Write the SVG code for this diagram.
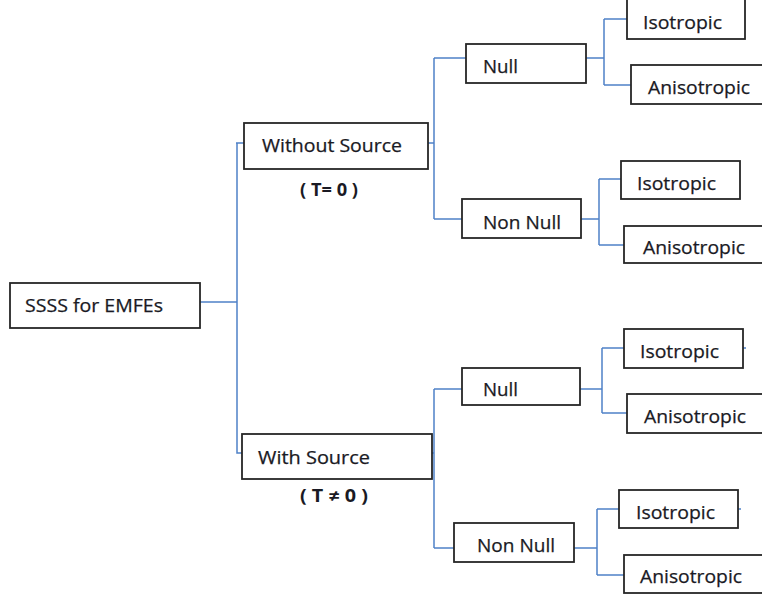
<svg xmlns="http://www.w3.org/2000/svg" width="762" height="598" viewBox="0 0 762 598">
  <style>
    .box { fill: #ffffff; stroke: #262626; stroke-width: 1.8; }
    .lbl { font-family: "Open Sans", "Liberation Sans", sans-serif; font-size: 18.5px; fill: #1a1a24; stroke: #1a1a24; stroke-width: 0.25; }
    .cond { font-family: "Open Sans", "Liberation Sans", sans-serif; font-size: 17px; font-weight: bold; fill: #1a1a24; }
    .wire { fill: none; stroke: #4f81c7; stroke-width: 1.5; }
  </style>
  <rect width="762" height="598" fill="#ffffff"/>

  <!-- tree connectors -->
  <g id="connectors">
    <path class="wire" d="M200 302 H237 M236 143 H244 M237 143 V453 H242"/>
    <path class="wire" d="M428 143 H434 M434 58 V219 M434 58 H466 M434 219 H462"/>
    <path class="wire" d="M432 453 H434 M434 389 V548 M434 389 H462 M434 548 H454"/>
    <path class="wire" d="M586 58 H604 M604 19 V85 M604 19 H627 M604 85 H631"/>
    <path class="wire" d="M581 219 H599 M599 179 V245 M599 179 H621 M599 245 H624"/>
    <path class="wire" d="M580 389 H602 M602 348 V413 M602 348 H624 M602 413 H627 M743 348 H746"/>
    <path class="wire" d="M574 548 H597 M597 509 V575 M597 509 H619 M597 575 H624 M738 509 H741"/>
  </g>

  <g id="root">
    <rect class="box" x="10" y="283" width="190" height="45"/>
    <text class="lbl" x="25" y="312" textLength="138" lengthAdjust="spacingAndGlyphs">SSSS for EMFEs</text>
  </g>

  <g id="without-source">
    <rect class="box" x="244" y="123" width="184" height="46"/>
    <text class="lbl" x="262" y="152" textLength="140" lengthAdjust="spacingAndGlyphs">Without Source</text>
    <text class="cond" x="300" y="196" textLength="58" lengthAdjust="spacingAndGlyphs">( T= 0 )</text>
  </g>

  <g id="with-source">
    <rect class="box" x="242" y="434" width="190" height="45"/>
    <text class="lbl" x="258" y="464" textLength="112" lengthAdjust="spacingAndGlyphs">With Source</text>
    <text class="cond" x="300" y="502" textLength="68" lengthAdjust="spacingAndGlyphs">( T ≠ 0 )</text>
  </g>

  <g id="ws-null">
    <rect class="box" x="466" y="44" width="120" height="39"/>
    <text class="lbl" x="483" y="73" textLength="35" lengthAdjust="spacingAndGlyphs">Null</text>
  </g>
  <g id="ws-nonnull">
    <rect class="box" x="462" y="199" width="119" height="39"/>
    <text class="lbl" x="483" y="229" textLength="78" lengthAdjust="spacingAndGlyphs">Non Null</text>
  </g>
  <g id="s-null">
    <rect class="box" x="462" y="368" width="118" height="37"/>
    <text class="lbl" x="483" y="396" textLength="35" lengthAdjust="spacingAndGlyphs">Null</text>
  </g>
  <g id="s-nonnull">
    <rect class="box" x="454" y="523" width="120" height="39"/>
    <text class="lbl" x="477" y="552" textLength="78" lengthAdjust="spacingAndGlyphs">Non Null</text>
  </g>

  <g id="ws-null-iso">
    <rect class="box" x="627" y="-2" width="118" height="41"/>
    <text class="lbl" x="643" y="29" textLength="79" lengthAdjust="spacingAndGlyphs">Isotropic</text>
  </g>
  <g id="ws-null-aniso">
    <rect class="box" x="631" y="65" width="140" height="39"/>
    <text class="lbl" x="648" y="94" textLength="102" lengthAdjust="spacingAndGlyphs">Anisotropic</text>
  </g>
  <g id="ws-nonnull-iso">
    <rect class="box" x="621" y="161" width="119" height="38"/>
    <text class="lbl" x="637" y="190" textLength="79" lengthAdjust="spacingAndGlyphs">Isotropic</text>
  </g>
  <g id="ws-nonnull-aniso">
    <rect class="box" x="624" y="226" width="147" height="37"/>
    <text class="lbl" x="643" y="254" textLength="102" lengthAdjust="spacingAndGlyphs">Anisotropic</text>
  </g>
  <g id="s-null-iso">
    <rect class="box" x="624" y="329" width="119" height="39"/>
    <text class="lbl" x="640" y="358" textLength="79" lengthAdjust="spacingAndGlyphs">Isotropic</text>
  </g>
  <g id="s-null-aniso">
    <rect class="box" x="627" y="394" width="144" height="39"/>
    <text class="lbl" x="644" y="423" textLength="102" lengthAdjust="spacingAndGlyphs">Anisotropic</text>
  </g>
  <g id="s-nonnull-iso">
    <rect class="box" x="619" y="490" width="119" height="38"/>
    <text class="lbl" x="636" y="519" textLength="79" lengthAdjust="spacingAndGlyphs">Isotropic</text>
  </g>
  <g id="s-nonnull-aniso">
    <rect class="box" x="624" y="555" width="147" height="38"/>
    <text class="lbl" x="640" y="583" textLength="102" lengthAdjust="spacingAndGlyphs">Anisotropic</text>
  </g>
</svg>
